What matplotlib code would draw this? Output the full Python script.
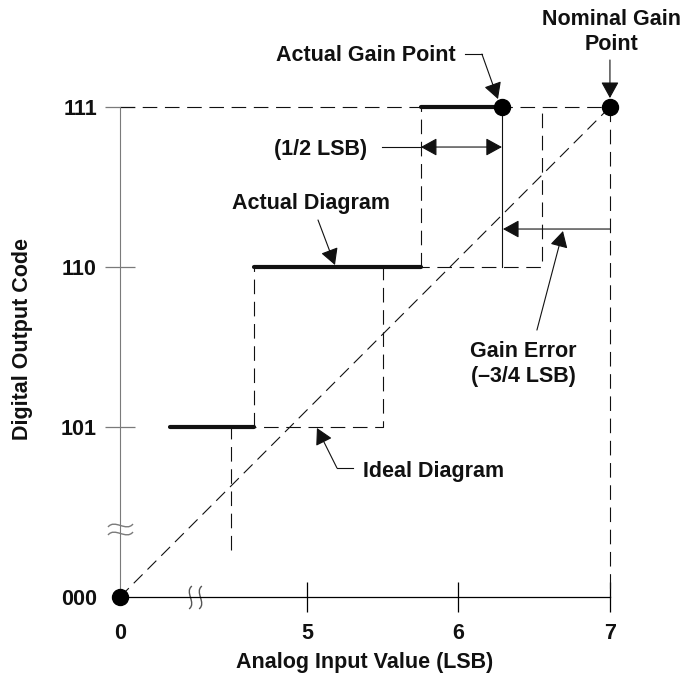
import matplotlib.pyplot as plt
from matplotlib.path import Path

plt.rcParams['font.family'] = ['Liberation Sans', 'DejaVu Sans']
plt.rcParams['font.weight'] = 'bold'
plt.rcParams['axes.labelweight'] = 'bold'
plt.rcParams['lines.scale_dashes'] = False

# axis positions in LSB / code units (both axes are broken, so 0 and 000 sit close)
x_tick_pos = [3.766, 5, 6, 7]
x_tick_labels = ['0', '5', '6', '7']
y_tick_pos = [3.9375, 5, 6, 7]
y_tick_labels = ['000', '101', '110', '111']

codes = [5, 6, 7]                              # 101, 110, 111
actual_edges = [4.096, 4.650, 5.752, 6.287]    # actual transfer function steps
ideal_edges = [4.498, 5.502, 6.551]            # ideal transitions
ideal_start = 4.231
origin = (3.766, 3.9375)
actual_gain = (6.287, 7)
nominal_gain = (7, 7)

FS = 15.5
INK = '#111111'
GRAY = '#7a7a7a'
DASH = (0, (10.5, 5.5))
THIN = 0.8
arrow = dict(arrowstyle='-|>,head_length=0.4,head_width=0.22', mutation_scale=25,
             lw=THIN, color=INK, shrinkA=0, shrinkB=0)

fig = plt.figure(figsize=(6.86, 6.77), dpi=100)
ax = fig.add_axes([0, 0, 1, 1])
ax.set_xlim(2.974, 7.502)
ax.set_ylim(3.4375, 7.669)

# reference lines
ax.plot([origin[0], nominal_gain[0]], [origin[1], nominal_gain[1]], ls=(0, (9, 5)), lw=THIN, color=INK)
ax.plot([origin[0], nominal_gain[0]], [nominal_gain[1]] * 2, ls=DASH, lw=THIN, color=INK)
ax.plot([nominal_gain[0]] * 2, [nominal_gain[1], origin[1]], ls=DASH, lw=THIN, color=INK)

# ideal staircase
xs, ys, prev = [], [], ideal_start
for x, c in zip(ideal_edges, codes):
    xs += [x, x]
    ys += [prev, c]
    prev = c
ax.plot(xs, ys, ls=DASH, lw=THIN, color=INK)

# actual staircase
for i, c in enumerate(codes):
    ax.plot([actual_edges[i], actual_edges[i + 1]], [c, c], lw=3, color=INK, solid_capstyle='round', zorder=3)
for i in range(1, len(codes)):
    ax.plot([actual_edges[i]] * 2, [codes[i - 1], codes[i]], ls=DASH, lw=THIN, color=INK)
ax.plot([actual_gain[0]] * 2, [codes[1], codes[2]], lw=THIN, color=INK)

# points
px, py = zip(origin, actual_gain, nominal_gain)
ax.plot(px, py, 'o', ms=11.5, color='black', zorder=4)

# axes
ax.spines[['top', 'right']].set_visible(False)
ax.spines['left'].set_position(('data', origin[0]))
ax.spines['left'].set_bounds(origin[1], 7)
ax.spines['left'].set_color(GRAY)
ax.spines['bottom'].set_position(('data', origin[1]))
ax.spines['bottom'].set_bounds(origin[0], 7)
ax.spines['bottom'].set_linewidth(0.9)
ax.set_xticks(x_tick_pos, x_tick_labels)
ax.set_yticks(y_tick_pos, y_tick_labels)
ax.tick_params(direction='inout', length=21.6, width=0.9, labelsize=FS, labelcolor=INK)
ax.tick_params(axis='x', pad=8)
ax.tick_params(axis='y', pad=5.8, color=GRAY)
ax.xaxis.get_major_ticks()[0].tick1line.set_visible(False)
ax.yaxis.get_major_ticks()[0].tick1line.set_visible(False)
ax.set_xlabel('Analog Input Value (LSB)', fontsize=FS, fontweight='bold', color=INK)
ax.xaxis.set_label_coords(5.383, 3.594, transform=ax.transData)
ax.set_ylabel('Digital Output Code', fontsize=FS, fontweight='bold', color=INK)
ax.yaxis.set_label_coords(3.191, 5.55, transform=ax.transData)

# axis break marks
wave = Path([(-1, -0.12), (-0.45, 0.55), (0.45, -0.55), (1, 0.12)],
            [Path.MOVETO, Path.CURVE4, Path.CURVE4, Path.CURVE4])
wave_v = Path([(y, x) for x, y in wave.vertices], wave.codes)
ax.plot([origin[0]] * 2, [4.3875, 4.3375], ls='none', marker=wave, ms=18,
        mfc='none', mec=GRAY, mew=1)
ax.plot([4.228, 4.294], [origin[1]] * 2, ls='none', marker=wave_v, ms=16.5,
        mfc='none', mec='#555555', mew=1)

# annotations
ax.text(5.389, 7.319, 'Actual Gain Point', ha='center', va='center', fontsize=FS, color=INK)
ax.plot([6.043, 6.155], [7.331, 7.331], lw=THIN, color=INK)
ax.annotate('', xy=(6.261, 7.05), xytext=(6.155, 7.331), arrowprops=arrow)

ax.text(7.013, 7.469, 'Nominal Gain\nPoint', ha='center', va='center', fontsize=FS,
        color=INK, linespacing=1.25)
ax.annotate('', xy=(7, 7.056), xytext=(7, 7.294), arrowprops=arrow)

ax.text(5.092, 6.7375, '(1/2 LSB)', ha='center', va='center', fontsize=FS, color=INK)
ax.plot([5.495, actual_edges[2]], [6.75, 6.75], lw=THIN, color=INK)
ax.annotate('', xy=(actual_gain[0], 6.75), xytext=(actual_edges[2], 6.75),
            arrowprops=dict(arrow, arrowstyle='<|-|>,head_length=0.4,head_width=0.22'))

ax.text(5.026, 6.394, 'Actual Diagram', ha='center', va='center', fontsize=FS, color=INK)
ax.annotate('', xy=(5.185, 6.0125), xytext=(5.073, 6.294), arrowprops=arrow)

ax.annotate('', xy=(actual_gain[0] + 0.007, 6.2375), xytext=(7, 6.2375), arrowprops=arrow)
ax.text(6.426, 5.394, 'Gain Error\n(–3/4 LSB)', ha='center', va='center', fontsize=FS,
        color=INK, linespacing=1.3)
ax.annotate('', xy=(6.69, 6.225), xytext=(6.518, 5.606), arrowprops=arrow)

ax.text(5.370, 4.719, 'Ideal Diagram', ha='left', va='center', fontsize=FS, color=INK)
ax.plot([5.304, 5.198], [4.744, 4.744], lw=THIN, color=INK)
ax.annotate('', xy=(5.066, 4.994), xytext=(5.198, 4.744), arrowprops=arrow)

fig.savefig('out.png', dpi=100)
